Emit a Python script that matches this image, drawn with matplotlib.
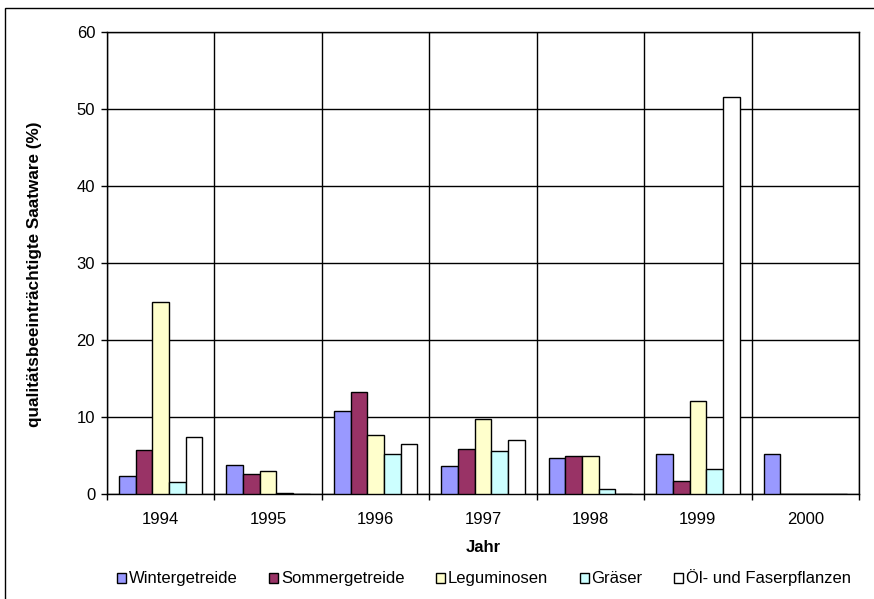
import numpy as np
import matplotlib
matplotlib.use("Agg")
import matplotlib.pyplot as plt
from matplotlib.patches import Rectangle

plt.rcParams['font.family'] = ['Liberation Sans', 'DejaVu Sans']

jahre = ["1994", "1995", "1996", "1997", "1998", "1999", "2000"]
serien = ["Wintergetreide", "Sommergetreide", "Leguminosen", "Gräser", "Öl- und Faserpflanzen"]
wintergetreide = [2.3, 3.8, 10.8, 3.6, 4.7, 5.2, 5.2]
sommergetreide = [5.7, 2.6, 13.3, 5.9, 5.0, 1.7, 0]
leguminosen = [24.9, 3.0, 7.6, 9.7, 5.0, 12.1, 0]
graeser = [1.6, 0.15, 5.2, 5.6, 0.65, 3.2, 0]
oelfaser = [7.4, 0, 6.5, 7.0, 0, 51.6, 0]
farben = ["#9999ff", "#993366", "#ffffcc", "#ccffff", "#ffffff"]

werte = [wintergetreide, sommergetreide, leguminosen, graeser, oelfaser]

fig = plt.figure(figsize=(8.74, 5.99), dpi=100)
ax = fig.add_axes([107/874, 105/599, 752/874, 462/599])

x = np.arange(len(jahre))
bw = 0.1555
for i, (name, vals, c) in enumerate(zip(serien, werte, farben)):
    ax.bar(x + (i - 2) * bw, vals, bw, color=c, edgecolor="black", linewidth=1.0,
           label=name, zorder=3)

ax.set_xlim(-0.5, len(jahre) - 0.5)
ax.set_ylim(0, 60)
ax.set_yticks(range(0, 61, 10))
ax.set_xticks(x)
ax.set_xticklabels(jahre)
ax.set_xticks(np.arange(-0.5, len(jahre), 1), minor=True)
ax.tick_params(axis="x", which="major", length=0, pad=13, labelsize=12)
ax.tick_params(axis="x", which="minor", length=4.5, width=1, direction="out")
ax.tick_params(axis="y", length=4.5, width=1, direction="out", pad=4, labelsize=12)
ax.grid(axis="y", color="black", linewidth=1, zorder=0)
ax.grid(axis="x", which="minor", color="black", linewidth=1, zorder=0)
for s in ax.spines.values():
    s.set_linewidth(1)

ax.set_xlabel("Jahr", fontweight="bold", fontsize=12, labelpad=9)
# y-Beschriftung frei in Figurkoordinaten setzen
fig.text(35/874, 1 - 274.5/599, "qualitätsbeeinträchtigte Saatware (%)", rotation=90,
         ha="center", va="center", fontweight="bold", fontsize=12.3)

fig.legend(loc="center", bbox_to_anchor=(484/874, 1 - 578/599), ncol=5, frameon=False,
           fontsize=12, handlelength=0.55, handleheight=0.55, handletextpad=0.15,
           columnspacing=1.9)

fig.patches.append(Rectangle((5/874, -0.1), 1.1, (599 - 8)/599 + 0.1, transform=fig.transFigure,
                             fill=False, edgecolor="black", linewidth=1))

fig.savefig("out.png", dpi=100)
